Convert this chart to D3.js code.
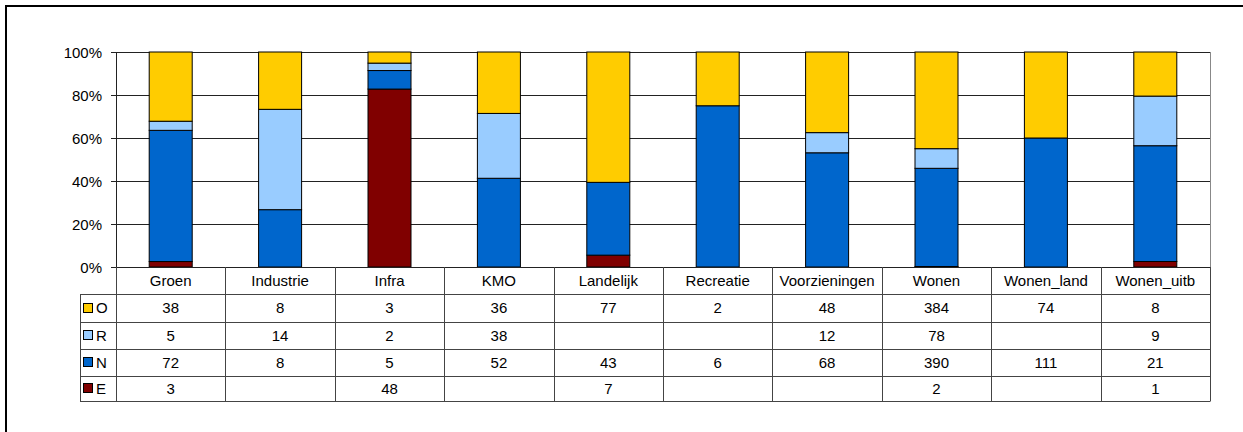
<!DOCTYPE html>
<html>
<head>
<meta charset="utf-8">
<script src="https://cdn.jsdelivr.net/npm/d3@7"></script>
<style>
  body { margin: 0; background: #fff; }
  svg { display: block; font-family: "Liberation Sans", Arial, sans-serif; }
</style>
</head>
<body>
<svg id="chart" width="1243" height="432"></svg>
<script>
// categories and series (absolute counts, as in the data table)
const categories = ["Groen", "Industrie", "Infra", "KMO", "Landelijk", "Recreatie", "Voorzieningen", "Wonen", "Wonen_land", "Wonen_uitb"];
const seriesNames = ["O", "R", "N", "E"];
const valuesO = [38, 8, 3, 36, 77, 2, 48, 384, 74, 8];
const valuesR = [5, 14, 2, 38, null, null, 12, 78, null, 9];
const valuesN = [72, 8, 5, 52, 43, 6, 68, 390, 111, 21];
const valuesE = [3, null, 48, null, 7, null, null, 2, null, 1];
const colors = {O: "#FFCC00", R: "#99CCFF", N: "#0066CC", E: "#800000"};
const yTicks = [0, 0.2, 0.4, 0.6, 0.8, 1];

const seriesValues = {O: valuesO, R: valuesR, N: valuesN, E: valuesE};

// rows for d3.stack, stacked from bottom E, N, R, O
const rows = categories.map((c, i) => {
    let row = {cat: c};
    seriesNames.forEach(s => row[s] = seriesValues[s][i] || 0);
    return row;
});

const svg = d3.select("#chart");

const plotLeft = 116, plotRight = 1210, plotTop = 52, plotBottom = 267;
const tableLeft = 80;
const rowH = [27, 27.5, 27, 27, 25];   // header, O, R, N, E
const fs = 15;

const x = d3.scaleBand().domain(categories).range([plotLeft, plotRight]).padding(0);
const y = d3.scaleLinear().domain([0, 1]).range([plotBottom, plotTop]);
const barW = 43;

// outer chart border (only top/left visible in the picture)
svg.append("rect")
    .attr("x", 6).attr("y", 6)
    .attr("width", 1260).attr("height", 460)
    .attr("fill", "none")
    .attr("stroke", "#000")
    .attr("stroke-width", 2);

// gridlines
svg.append("g")
    .selectAll("line")
    .data(yTicks.filter(d => d > 0))
    .join("line")
    .attr("x1", plotLeft - 5).attr("x2", plotRight)
    .attr("y1", d => Math.round(y(d)) + 0.5)
    .attr("y2", d => Math.round(y(d)) + 0.5)
    .attr("stroke", "#222")
    .attr("stroke-width", 1);

// right plot border
svg.append("line")
    .attr("x1", plotRight + 0.5).attr("x2", plotRight + 0.5)
    .attr("y1", plotTop).attr("y2", plotBottom)
    .attr("stroke", "#888");

// y labels
svg.append("g")
    .selectAll("text")
    .data(yTicks)
    .join("text")
    .attr("x", 102)
    .attr("y", d => y(d) + 5.5)
    .attr("text-anchor", "end")
    .attr("font-size", fs)
    .text(d3.format(".0%"));

// stacked bars (normalised)
const stack = d3.stack()
    .keys(["E", "N", "R", "O"])
    .offset(d3.stackOffsetExpand);
const stacked = stack(rows);

svg.append("g")
    .selectAll("g")
    .data(stacked)
    .join("g")
    .attr("fill", d => colors[d.key])
    .selectAll("rect")
    .data(d => d.filter(p => p[1] - p[0] > 0))
    .join("rect")
    .attr("x", d => x(d.data.cat) + x.bandwidth() / 2 - barW / 2)
    .attr("y", d => y(d[1]))
    .attr("width", barW)
    .attr("height", d => y(d[0]) - y(d[1]))
    .attr("stroke", "#000")
    .attr("stroke-width", 1);

// y axis line and tick marks
svg.append("line")
    .attr("x1", plotLeft + 0.5).attr("x2", plotLeft + 0.5)
    .attr("y1", plotTop).attr("y2", plotBottom)
    .attr("stroke", "#222");
svg.append("line")
    .attr("x1", plotLeft - 5).attr("x2", plotRight)
    .attr("y1", plotBottom + 0.5).attr("y2", plotBottom + 0.5)
    .attr("stroke", "#222");

// data table
const rowY = [plotBottom];
rowH.forEach(h => rowY.push(rowY[rowY.length - 1] + h));
const table = svg.append("g").attr("stroke", "#444").attr("stroke-width", 1);

// horizontal lines
rowY.slice(1).forEach(yy => {
    table.append("line")
        .attr("x1", tableLeft).attr("x2", plotRight)
        .attr("y1", Math.round(yy) + 0.5).attr("y2", Math.round(yy) + 0.5);
});
// vertical lines
categories.forEach(c => {
    table.append("line")
        .attr("x1", Math.round(x(c)) + 0.5).attr("x2", Math.round(x(c)) + 0.5)
        .attr("y1", plotBottom).attr("y2", Math.round(rowY[5]) + 0.5);
});
table.append("line")
    .attr("x1", plotRight + 0.5).attr("x2", plotRight + 0.5)
    .attr("y1", plotBottom).attr("y2", Math.round(rowY[5]) + 0.5);
table.append("line")
    .attr("x1", tableLeft + 0.5).attr("x2", tableLeft + 0.5)
    .attr("y1", Math.round(rowY[1]) + 0.5).attr("y2", Math.round(rowY[5]) + 0.5);

// category header
svg.append("g")
    .selectAll("text")
    .data(categories)
    .join("text")
    .attr("x", d => x(d) + x.bandwidth() / 2)
    .attr("y", (rowY[0] + rowY[1]) / 2 + 5.5)
    .attr("text-anchor", "middle")
    .attr("font-size", fs)
    .text(d => d);

// legend keys and values
seriesNames.forEach((s, r) => {
    const cy = (rowY[r + 1] + rowY[r + 2]) / 2;
    svg.append("rect")
        .attr("x", 83.5).attr("y", Math.round(cy - 5) + 0.5)
        .attr("width", 9).attr("height", 9)
        .attr("fill", colors[s])
        .attr("stroke", "#000");
    svg.append("text")
        .attr("x", 96).attr("y", cy + 5.5)
        .attr("font-size", fs)
        .text(s);
    svg.append("g")
        .selectAll("text")
        .data(seriesValues[s].map((v, i) => ({v: v, cat: categories[i]})).filter(d => d.v != null))
        .join("text")
        .attr("x", d => x(d.cat) + x.bandwidth() / 2)
        .attr("y", cy + 5.5)
        .attr("text-anchor", "middle")
        .attr("font-size", fs)
        .text(d => d.v);
});
</script>
</body>
</html>
